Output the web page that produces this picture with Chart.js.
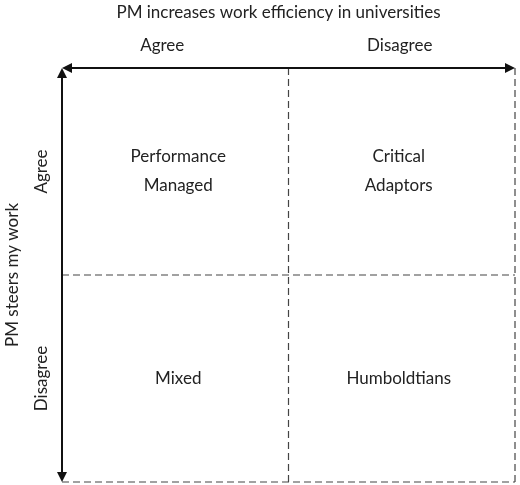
<!DOCTYPE html>
<html lang="en">
<head>
<meta charset="UTF-8" />
<title>PM quadrant</title>
<script src="https://cdn.jsdelivr.net/npm/chart.js"></script>
<style>
  body { margin: 0; background: #fff; }
  #wrap { width: 520px; height: 485px; }
</style>
</head>
<body>
<div id="wrap"><canvas id="quad"></canvas></div>
<script>
// Data
const title = "PM increases work efficiency in universities";
const sideTitle = "PM steers my work";
const columns = ["Agree", "Disagree"];
const rows = ["Agree", "Disagree"];
const quadrantLabels = [
    ["Performance", "Managed"], ["Critical", "Adaptors"],
    ["Mixed"], ["Humboldtians"]
];
const quadrantX = [0.5, 1.5, 0.5, 1.5];
const quadrantY = [1.5, 1.5, 0.5, 0.5];

const FONT = "Lato, 'Open Sans', sans-serif";
const INK = "#222";

const quadPlugin = {
    id: "quad",
    afterDraw(chart) {
        const ctx = chart.ctx;
        const x = chart.scales.x, y = chart.scales.y;
        const L = x.getPixelForValue(0), R = x.getPixelForValue(2);
        const T = y.getPixelForValue(2), B = y.getPixelForValue(0);
        const mx = x.getPixelForValue(1), my = y.getPixelForValue(1);
        ctx.save();
        // dashed lines
        ctx.strokeStyle = "#444";
        ctx.lineWidth = 1.2;
        ctx.setLineDash([7, 4]);
        ctx.beginPath();
        ctx.moveTo(R, T); ctx.lineTo(R, B);
        ctx.moveTo(L, B); ctx.lineTo(R, B);
        ctx.moveTo(mx, T); ctx.lineTo(mx, B);
        ctx.moveTo(L, my); ctx.lineTo(R, my);
        ctx.stroke();
        // arrows
        ctx.setLineDash([]);
        ctx.strokeStyle = "#111";
        ctx.fillStyle = "#111";
        ctx.lineWidth = 2;
        ctx.beginPath();
        ctx.moveTo(L + 4, T); ctx.lineTo(R - 4, T);
        ctx.moveTo(L, T + 4); ctx.lineTo(L, B - 4);
        ctx.stroke();
        const head = (px, py, dx, dy) => {
            ctx.beginPath();
            ctx.moveTo(px, py);
            ctx.lineTo(px - dx * 10 - dy * 5, py - dy * 10 - dx * 5);
            ctx.lineTo(px - dx * 10 + dy * 5, py - dy * 10 + dx * 5);
            ctx.closePath();
            ctx.fill();
        };
        head(R, T, 1, 0); head(L, T, -1, 0);
        head(L, B, 0, 1); head(L, T, 0, -1);
        // texts
        ctx.fillStyle = INK;
        ctx.textAlign = "center";
        ctx.textBaseline = "middle";
        ctx.font = "17px " + FONT;
        ctx.fillText(title, (L + R) / 2 - 10, 13);
        columns.forEach((c, i) => ctx.fillText(c, x.getPixelForValue(i + 0.5) - 13 * (1 - i) - 2 * i, 46));
        chart.data.datasets[0].data.forEach((p, i) => {
            const px = x.getPixelForValue(p.x) + (i % 2 === 0 ? 3 : -3);
            const py = y.getPixelForValue(p.y);
            const lines = quadrantLabels[i];
            lines.forEach((t, k) => ctx.fillText(t, px, py + (k - (lines.length - 1) / 2) * 29));
        });
        const side = (t, cx, cy) => {
            ctx.save();
            ctx.translate(cx, cy);
            ctx.rotate(-Math.PI / 2);
            ctx.fillText(t, 0, 0);
            ctx.restore();
        };
        side(sideTitle, 13, my);
        rows.forEach((r, i) => side(r, 42, y.getPixelForValue(1.5 - i)));
        ctx.restore();
    }
};

new Chart(document.getElementById("quad"), {
    type: "scatter",
    data: {
        datasets: [{
            data: quadrantX.map((v, i) => ({ x: v, y: quadrantY[i] })),
            pointRadius: 0
        }]
    },
    options: {
        responsive: true,
        maintainAspectRatio: false,
        animation: false,
        layout: { padding: { left: 62, top: 68, right: 5, bottom: 3 } },
        scales: {
            x: { display: false, min: 0, max: 2 },
            y: { display: false, min: 0, max: 2 }
        },
        plugins: { legend: { display: false }, tooltip: { enabled: false } }
    },
    plugins: [quadPlugin]
});
</script>
</body>
</html>
